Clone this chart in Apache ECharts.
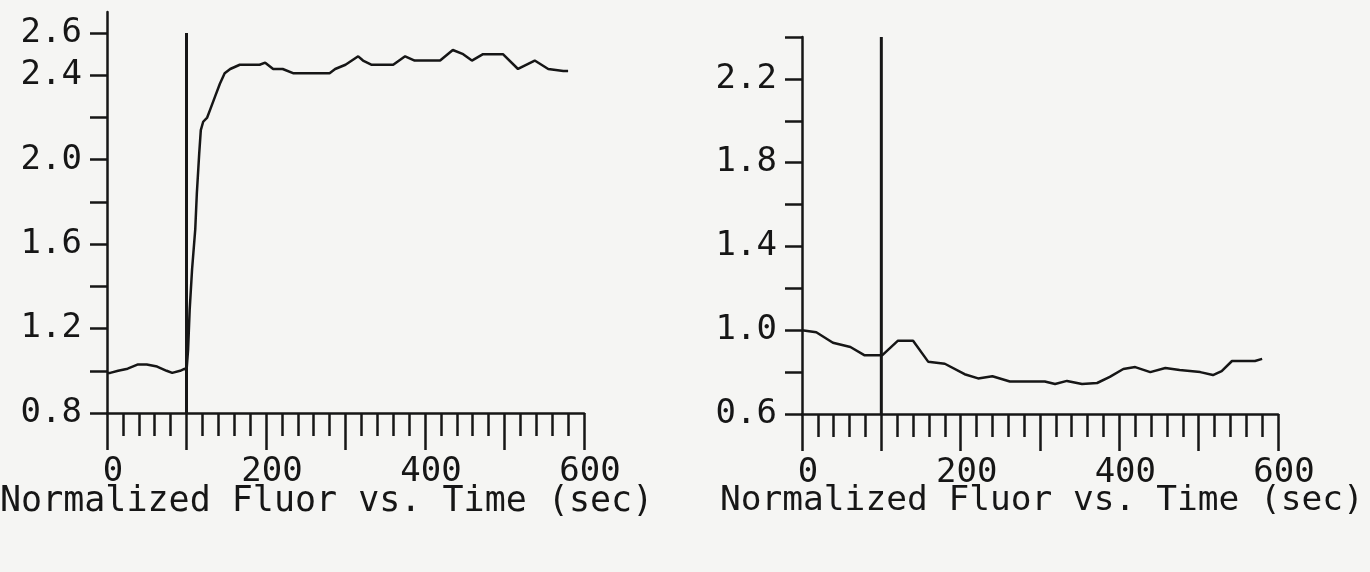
<!DOCTYPE html>
<html><head><meta charset="utf-8">
<script src="https://cdn.jsdelivr.net/npm/echarts@6/dist/echarts.min.js"></script>
<style>html,body{margin:0;padding:0;background:#f5f5f3}#c{width:1370px;height:572px}</style>
</head><body><div id="c"></div>
<script>
// ---- data ----
const leftTime  = [0, 4, 14, 26, 39, 50, 63, 75, 82, 92, 98, 100, 102, 104, 107, 111, 113, 116, 118, 121, 126, 130, 136, 142, 148, 155, 167, 192, 199, 209, 221, 234, 268, 280, 287, 300, 316, 322, 333, 360, 375, 387, 419, 435, 448, 459, 473, 498, 517, 538, 555, 574, 580];
const leftFluor = [0.99, 0.99, 1.00, 1.01, 1.03, 1.03, 1.02, 1.00, 0.99, 1.00, 1.01, 1.00, 1.10, 1.29, 1.48, 1.67, 1.84, 2.03, 2.14, 2.18, 2.20, 2.24, 2.30, 2.36, 2.41, 2.43, 2.45, 2.45, 2.46, 2.43, 2.43, 2.41, 2.41, 2.41, 2.43, 2.45, 2.49, 2.47, 2.45, 2.45, 2.49, 2.47, 2.47, 2.52, 2.50, 2.47, 2.50, 2.50, 2.43, 2.47, 2.43, 2.42, 2.42];
const rightTime  = [0, 18, 39, 61, 79, 96, 101, 121, 140, 159, 180, 205, 222, 240, 262, 306, 319, 334, 353, 372, 388, 405, 420, 439, 458, 476, 502, 518, 529, 542, 571, 580];
const rightFluor = [1.00, 0.99, 0.94, 0.92, 0.88, 0.88, 0.88, 0.95, 0.95, 0.85, 0.84, 0.79, 0.77, 0.78, 0.755, 0.755, 0.743, 0.758, 0.743, 0.748, 0.777, 0.815, 0.824, 0.80, 0.82, 0.81, 0.80, 0.786, 0.805, 0.853, 0.853, 0.863];
const markerTime = 100;
const leftYTicks   = [0.8, 1.0, 1.2, 1.4, 1.6, 1.8, 2.0, 2.2, 2.4, 2.6];
const leftYLabels  = [0.8, 1.2, 1.6, 2.0, 2.4, 2.6];
const rightYTicks  = [0.6, 0.8, 1.0, 1.2, 1.4, 1.6, 1.8, 2.0, 2.2, 2.4];
const rightYLabels = [0.6, 1.0, 1.4, 1.8, 2.2];
const xLabels = [0, 200, 400, 600];
const axisTitle = 'Normalized Fluor vs. Time (sec)';

// ---- chart ----
const INK = '#161616';
const FONT = "'DejaVu Sans Mono', 'Liberation Mono', monospace";
const zip = (a, b) => a.map((v, i) => [v, b[i]]);

function xAxis(gi) {
  return {
    type: 'value', gridIndex: gi, min: 0, max: 600, interval: 100,
    axisLine: { lineStyle: { color: INK, width: 2.5 } },
    axisTick: { show: true, length: 37, lineStyle: { color: INK, width: 2.5 } },
    minorTick: { show: true, splitNumber: 5, length: 23, lineStyle: { color: INK, width: 2.5 } },
    splitLine: { show: false },
    axisLabel: { customValues: xLabels, color: INK, fontFamily: FONT, fontSize: 34, margin: 42,
                 padding: [0, 0, 0, 12], formatter: v => String(v) }
  };
}
function yAxis(gi, min, max, ticks, labels) {
  return {
    type: 'value', gridIndex: gi, min: min, max: max, interval: 0.2,
    axisLine: { show: true, lineStyle: { color: INK, width: 2.5 } },
    axisTick: { show: true, customValues: ticks, length: 17, lineStyle: { color: INK, width: 2.5 } },
    splitLine: { show: false },
    axisLabel: { customValues: labels, color: INK, fontFamily: FONT, fontSize: 34, margin: 25,
                 formatter: v => v.toFixed(1) }
  };
}
const lineStyle = { color: INK, width: 2.5 };

const chart = echarts.init(document.getElementById('c'), null, { renderer: 'canvas' });
chart.setOption({
  animation: false,
  backgroundColor: '#f5f5f3',
  grid: [
    { left: 107, top: 12, width: 477, bottom: 159 },
    { left: 802, top: 37, width: 476, bottom: 158 }
  ],
  xAxis: [xAxis(0), xAxis(1)],
  yAxis: [
    yAxis(0, leftYTicks[0], 2.7, leftYTicks, leftYLabels),
    yAxis(1, rightYTicks[0], rightYTicks[rightYTicks.length - 1], rightYTicks, rightYLabels)
  ],
  series: [
    { type: 'line', xAxisIndex: 0, yAxisIndex: 0, data: zip(leftTime, leftFluor),
      showSymbol: false, lineStyle: lineStyle },
    { type: 'line', xAxisIndex: 0, yAxisIndex: 0,
      data: [[markerTime, leftYTicks[0]], [markerTime, leftYTicks[leftYTicks.length - 1]]],
      showSymbol: false, lineStyle: { color: INK, width: 3 } },
    { type: 'line', xAxisIndex: 1, yAxisIndex: 1, data: zip(rightTime, rightFluor),
      showSymbol: false, lineStyle: lineStyle },
    { type: 'line', xAxisIndex: 1, yAxisIndex: 1,
      data: [[markerTime, rightYTicks[0]], [markerTime, rightYTicks[rightYTicks.length - 1]]],
      showSymbol: false, lineStyle: { color: INK, width: 3 } }
  ],
  graphic: [
    { type: 'text', left: 0, top: 484,
      style: { text: axisTitle, fill: INK, font: "35px 'DejaVu Sans Mono', monospace" } },
    { type: 'text', left: 720, top: 484,
      style: { text: axisTitle, fill: INK, font: "34.5px 'DejaVu Sans Mono', monospace" } }
  ]
});
</script>
</body></html>
